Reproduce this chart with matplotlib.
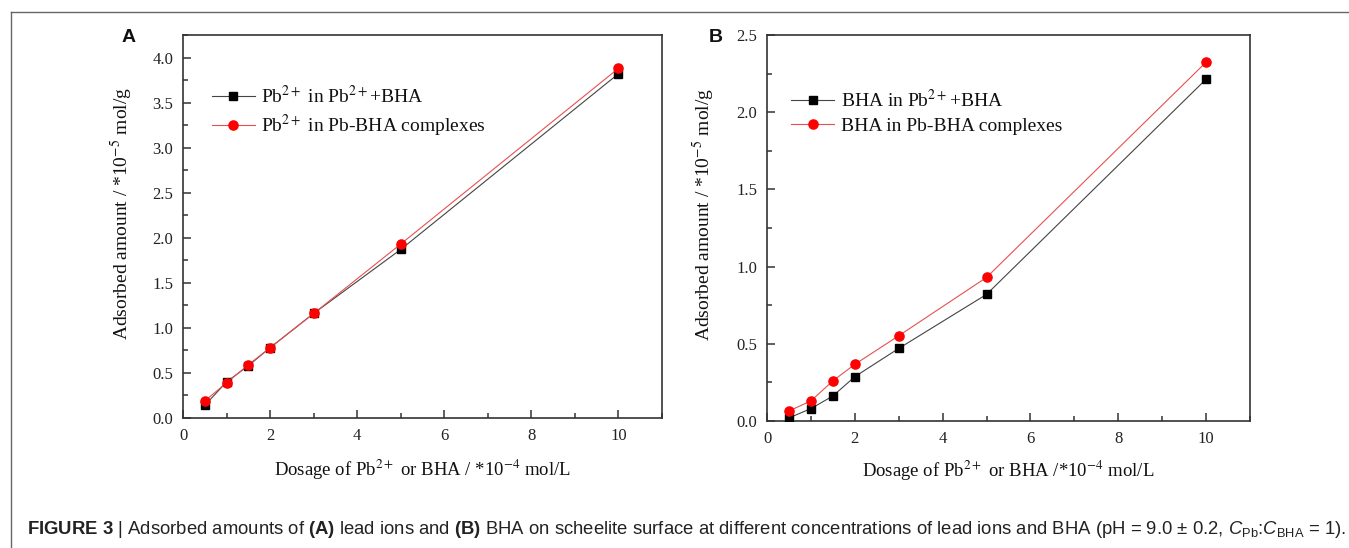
import matplotlib
matplotlib.use("Agg")
import matplotlib.pyplot as plt
from matplotlib.lines import Line2D
from matplotlib.ticker import MultipleLocator

CAP_FONT = 'Liberation Sans'

plt.rcParams['font.family'] = ['Liberation Serif', 'DejaVu Serif']
plt.rcParams['mathtext.fontset'] = 'stix'
plt.rcParams['mathtext.rm'] = CAP_FONT
plt.rcParams['mathtext.it'] = CAP_FONT + ':italic'
plt.rcParams['mathtext.bf'] = CAP_FONT + ':bold'

# ---------------- data ----------------
dosage = [0.5, 1, 1.5, 2, 3, 5, 10]

pb_in_mix = [0.14, 0.40, 0.58, 0.78, 1.16, 1.87, 3.82]
pb_in_complex = [0.19, 0.39, 0.59, 0.78, 1.16, 1.93, 3.88]

bha_in_mix = [0.02, 0.08, 0.162, 0.287, 0.47, 0.82, 2.214]
bha_in_complex = [0.065, 0.13, 0.26, 0.367, 0.552, 0.93, 2.324]

labels_A = [r"Pb$^{2+}$ in Pb$^{2+}$+BHA", r"Pb$^{2+}$ in Pb-BHA complexes"]
labels_B = [r"BHA in Pb$^{2+}$+BHA", "BHA in Pb-BHA complexes"]

ylabel = r"Adsorbed amount / *10$^{-5}$ mol/g"
xlabel_A = r"Dosage of Pb$^{2+}$ or BHA / *10$^{-4}$ mol/L"
xlabel_B = r"Dosage of Pb$^{2+}$ or BHA /*10$^{-4}$ mol/L"

caption = (r"$\mathbf{FIGURE\ 3}$ | Adsorbed amounts of $\mathbf{(A)}$ lead ions and "
           r"$\mathbf{(B)}$ BHA on scheelite surface at different concentrations of "
           r"lead ions and BHA (pH = 9.0 ± 0.2, $C_{\mathrm{Pb}}$:$C_{\mathrm{BHA}}$ = 1).")

W, H = 1349, 548
fig = plt.figure(figsize=(W / 100, H / 100), dpi=100)

BLACK_LINE = '#444444'
RED_LINE = '#e85050'
SPINE = '#333333'


def px_axes(l, t, r, b):
    return fig.add_axes([l / W, 1 - b / H, (r - l) / W, (b - t) / H])


def style(ax, ymax, ymajor, yminor):
    ax.set_xlim(0, 11)
    ax.set_ylim(0, ymax)
    ax.xaxis.set_major_locator(MultipleLocator(2))
    ax.xaxis.set_minor_locator(MultipleLocator(1))
    ax.yaxis.set_major_locator(MultipleLocator(ymajor))
    ax.yaxis.set_minor_locator(MultipleLocator(yminor))
    ax.tick_params(which='both', direction='in', top=False, right=False,
                   color=SPINE, width=1.1, labelsize=12, labelcolor='#222222')
    ax.tick_params(which='major', length=6, pad=7)
    ax.tick_params(which='minor', length=3.5)
    ax.xaxis.set_major_formatter(plt.FuncFormatter(lambda v, p: f"{v:g}"))
    ax.yaxis.set_major_formatter(plt.FuncFormatter(lambda v, p: f"{v:.1f}"))
    for s in ax.spines.values():
        s.set_color(SPINE)
        s.set_linewidth(1.2)


def plot_series(ax, y1, y2, labels, legx, legy, xlabel):
    ax.plot(dosage, y1, color=BLACK_LINE, lw=0.8, marker='s', ms=5.6,
            mfc='black', mec='black', label=labels[0], zorder=3)
    ax.plot(dosage, y2, color=RED_LINE, lw=0.8, marker='o', ms=6.6,
            mfc='#ff0000', mec='#ff0000', label=labels[1], zorder=4)
    leg = ax.legend(loc='upper left', bbox_to_anchor=(legx, legy), frameon=False,
                    fontsize=14, handlelength=2.2, handletextpad=0.35,
                    labelspacing=0.3, borderpad=0, borderaxespad=0)
    for t in leg.get_texts():
        t.set_color('#111111')
    ax.set_ylabel(ylabel, fontsize=14, color='#111111')
    ax.set_xlabel(xlabel, fontsize=13.5, color='#111111')


axA = px_axes(183, 35, 662, 418)
style(axA, 4.25, 0.5, 0.25)
plot_series(axA, pb_in_mix, pb_in_complex, labels_A, 0.06, 0.87, xlabel_A)
axA.yaxis.set_label_coords(-48 / 479, 0.535)
axA.xaxis.set_label_coords(0.5, -40 / 383)

axB = px_axes(767, 35, 1250, 421)
style(axB, 2.5, 0.5, 0.25)
plot_series(axB, bha_in_mix, bha_in_complex, labels_B, 0.05, 0.86, xlabel_B)
axB.yaxis.set_label_coords(-50 / 483, 0.535)
axB.xaxis.set_label_coords(0.5, -38 / 386)

# panel letters
fig.text(129 / W, 1 - 38 / H, "A", family='Liberation Sans', weight='bold',
         fontsize=14, ha='center', va='center', color='#111111')
fig.text(716 / W, 1 - 37 / H, "B", family='Liberation Sans', weight='bold',
         fontsize=14, ha='center', va='center', color='#111111')

# frame lines (left and top only visible)
fig.add_artist(Line2D([11 / W, 11 / W], [0, 1 - 12 / H], transform=fig.transFigure,
                      color='#666666', lw=1.0))
fig.add_artist(Line2D([11 / W, 1], [1 - 12 / H, 1 - 12 / H], transform=fig.transFigure,
                      color='#666666', lw=1.0))

# caption, auto-fit width
cap = fig.text(27 / W, 14 / H, caption, family=CAP_FONT, fontsize=12,
               ha='left', va='baseline', color='#222222', math_fontfamily='custom')
r = fig.canvas.get_renderer()
w = cap.get_window_extent(r).width
cap.set_fontsize(12 * (1313 / w))

fig.savefig("out.png", dpi=100)
